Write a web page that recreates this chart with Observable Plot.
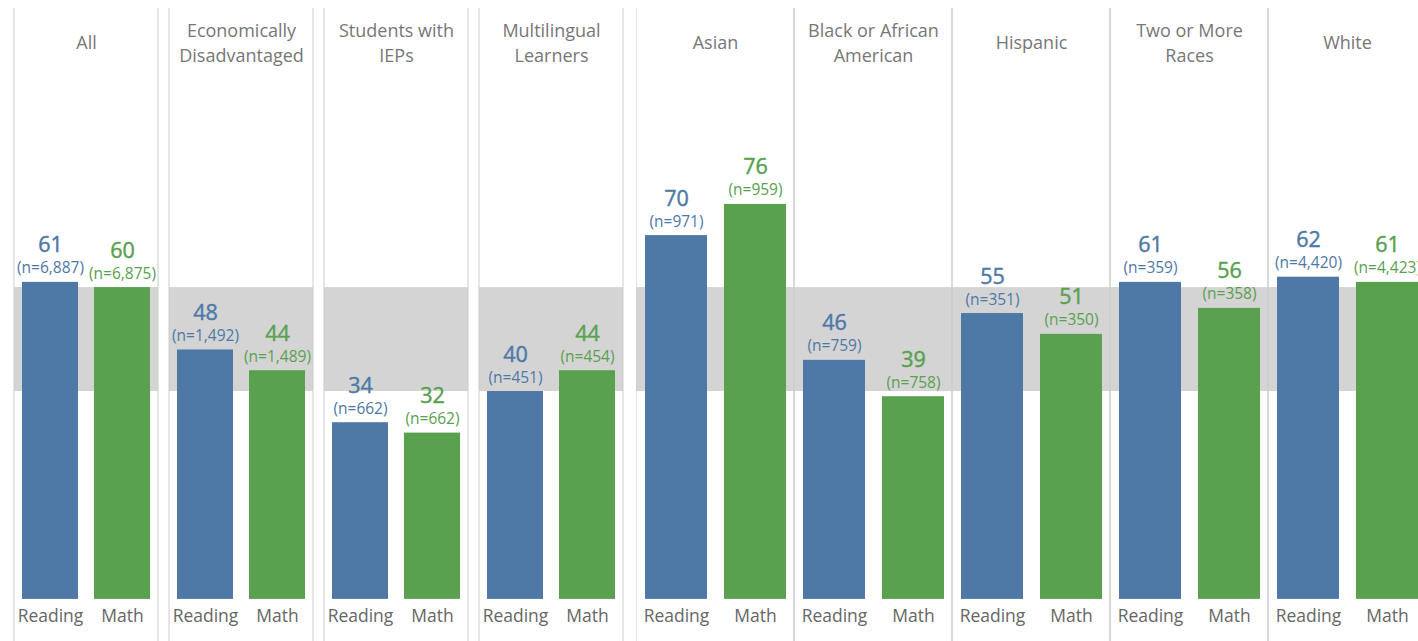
<!DOCTYPE html>
<html><head><meta charset="utf-8">
<script src="https://cdn.jsdelivr.net/npm/d3@7"></script>
<script src="https://cdn.jsdelivr.net/npm/@observablehq/plot@0.6"></script>
<style>
html,body{margin:0;padding:0;background:#fff;overflow:hidden;}
#wrap{display:flex;flex-wrap:nowrap;margin-top:8px;width:1500px;}
#wrap > *{flex-shrink:0;}
</style></head><body><div id="wrap"></div>
<script>
const groups = ["All","Economically Disadvantaged","Students with IEPs","Multilingual Learners","Asian","Black or African American","Hispanic","Two or More Races","White"];
const headerLabels = ["All","Economically\nDisadvantaged","Students with\nIEPs","Multilingual\nLearners","Asian","Black or African\nAmerican","Hispanic","Two or More\nRaces","White"];
const subjects = ["Reading","Math"];
const readingValues = [61,48,34,40,70,46,55,61,62];
const mathValues = [60,44,32,44,76,39,51,56,61];
const readingN = ["6,887","1,492","662","451","971","759","351","359","4,420"];
const mathN = ["6,875","1,489","662","454","959","758","350","358","4,423"];
const bandLow = 40, bandHigh = 60;
const colors = ["#4e79a7","#59a14f"];

const headerRows = groups.map((g,i)=>({group:g,label:headerLabels[i]}));
const rows = [];
groups.forEach((g,i)=>{
  rows.push({group:g,subject:"Reading",value:readingValues[i],n:readingN[i]});
  rows.push({group:g,subject:"Math",value:mathValues[i],n:mathN[i]});
});

function chart(subset, opts){
  const H = headerRows.filter(d=>subset.includes(d.group));
  const R = rows.filter(d=>subset.includes(d.group));
  return Plot.plot({
    width: opts.width, height: 633,
    marginTop: 0, marginBottom: 0, marginLeft: opts.marginLeft, marginRight: opts.marginRight,
    style: {fontFamily: "'Open Sans', sans-serif", background: "#fff"},
    fx: {domain: subset, paddingInner: opts.fxPad, paddingOuter: 0, axis: null},
    x: {domain: subjects, paddingInner: 0.22, paddingOuter: 0.1, axis: null},
    y: {domain: [-8.1, 113.7], axis: null},
    color: {domain: subjects, range: colors},
    marks: [
      Plot.rect(H, {fx:"group", y1: bandLow, y2: bandHigh, fill:"#d4d4d4"}),
      Plot.rect(H, {fx:"group", y1: -40, y2: 160, fill:"none", stroke:"#cccccc", strokeWidth:1}),
      Plot.barY(R, {fx:"group", x:"subject", y:"value", fill:"subject"}),
      Plot.text(R, {fx:"group", x:"subject", y:"value", text: d=>`(n=${d.n})`, dy:-9, lineAnchor:"bottom", fontSize:15.5, fill:"subject"}),
      Plot.text(R, {fx:"group", x:"subject", y:"value", text: d=>String(d.value), dy:-30, lineAnchor:"bottom", fontSize:21.5, fill:"subject", stroke:"subject", strokeWidth:0.45}),
      Plot.text(H, {fx:"group", text:"label", frameAnchor:"top", dy:32.7, lineAnchor:"middle", lineHeight:1.39, fontSize:18, fill:"#777"}),
      Plot.text(R, {fx:"group", x:"subject", text:"subject", frameAnchor:"bottom", dy:-20, lineAnchor:"bottom", fontSize:17.5, fill:"#666"})
    ]
  });
}

const wrap = document.getElementById("wrap");
wrap.appendChild(chart(groups.slice(0,4), {width:636, marginLeft:13, marginRight:11, fxPad:0.07}));
wrap.appendChild(chart(groups.slice(4), {width:790, marginLeft:0, marginRight:0, fxPad:0}));
</script></body></html>
